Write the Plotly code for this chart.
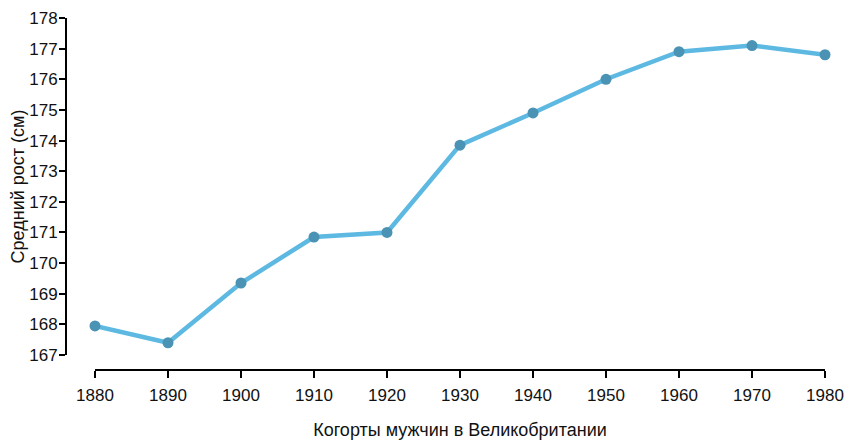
import plotly.graph_objects as go

years = [1880, 1890, 1900, 1910, 1920, 1930, 1940, 1950, 1960, 1970, 1980]
heights = [167.95, 167.4, 169.35, 170.85, 171.0, 173.85, 174.9, 176.0, 176.9, 177.1, 176.8]
y_ticks = list(range(167, 179))
x_title = "Когорты мужчин в Великобритании"
y_title = "Средний рост (см)"

# page body has an 8px margin, so the figure is drawn slightly smaller
W, H = 845, 432
ml, mr, mt, mb = 58, 28, 10, 70
pw = W - ml - mr
ph = H - mt - mb
xdom0 = 29 / pw
ydom0 = 15 / ph

font = "Liberation Sans"
fig = go.Figure()
fig.add_trace(go.Scatter(
    x=years, y=heights, mode="lines+markers",
    line=dict(color="#5DB9E2", width=4.5),
    marker=dict(color="#4B93B4", size=11),
    cliponaxis=False, showlegend=False,
))
fig.update_layout(
    width=W, height=H,
    margin=dict(l=ml, r=mr, t=mt, b=mb, autoexpand=False),
    paper_bgcolor="white", plot_bgcolor="white",
    font=dict(family=font, size=17, color="#111111"),
    xaxis=dict(
        domain=[xdom0, 1], range=[1880, 1980], anchor="free", position=0,
        tickvals=years, ticks="outside", ticklen=7, tickwidth=2, tickcolor="black",
        showline=True, linecolor="black", linewidth=2, showgrid=False, zeroline=False,
        ticklabelstandoff=3, automargin=False,
        title=dict(text=x_title, standoff=20, font=dict(size=18)),
    ),
    yaxis=dict(
        domain=[ydom0, 1], range=[167, 178], anchor="free", position=0,
        tickvals=y_ticks, ticks="outside", ticklen=6, tickwidth=2, tickcolor="black",
        showline=True, linecolor="black", linewidth=2, showgrid=False, zeroline=False,
        automargin=False, ticklabelstandoff=-2,
        title=dict(text=y_title, standoff=6, font=dict(size=18)),
    ),
)
fig.write_html("out.html")
